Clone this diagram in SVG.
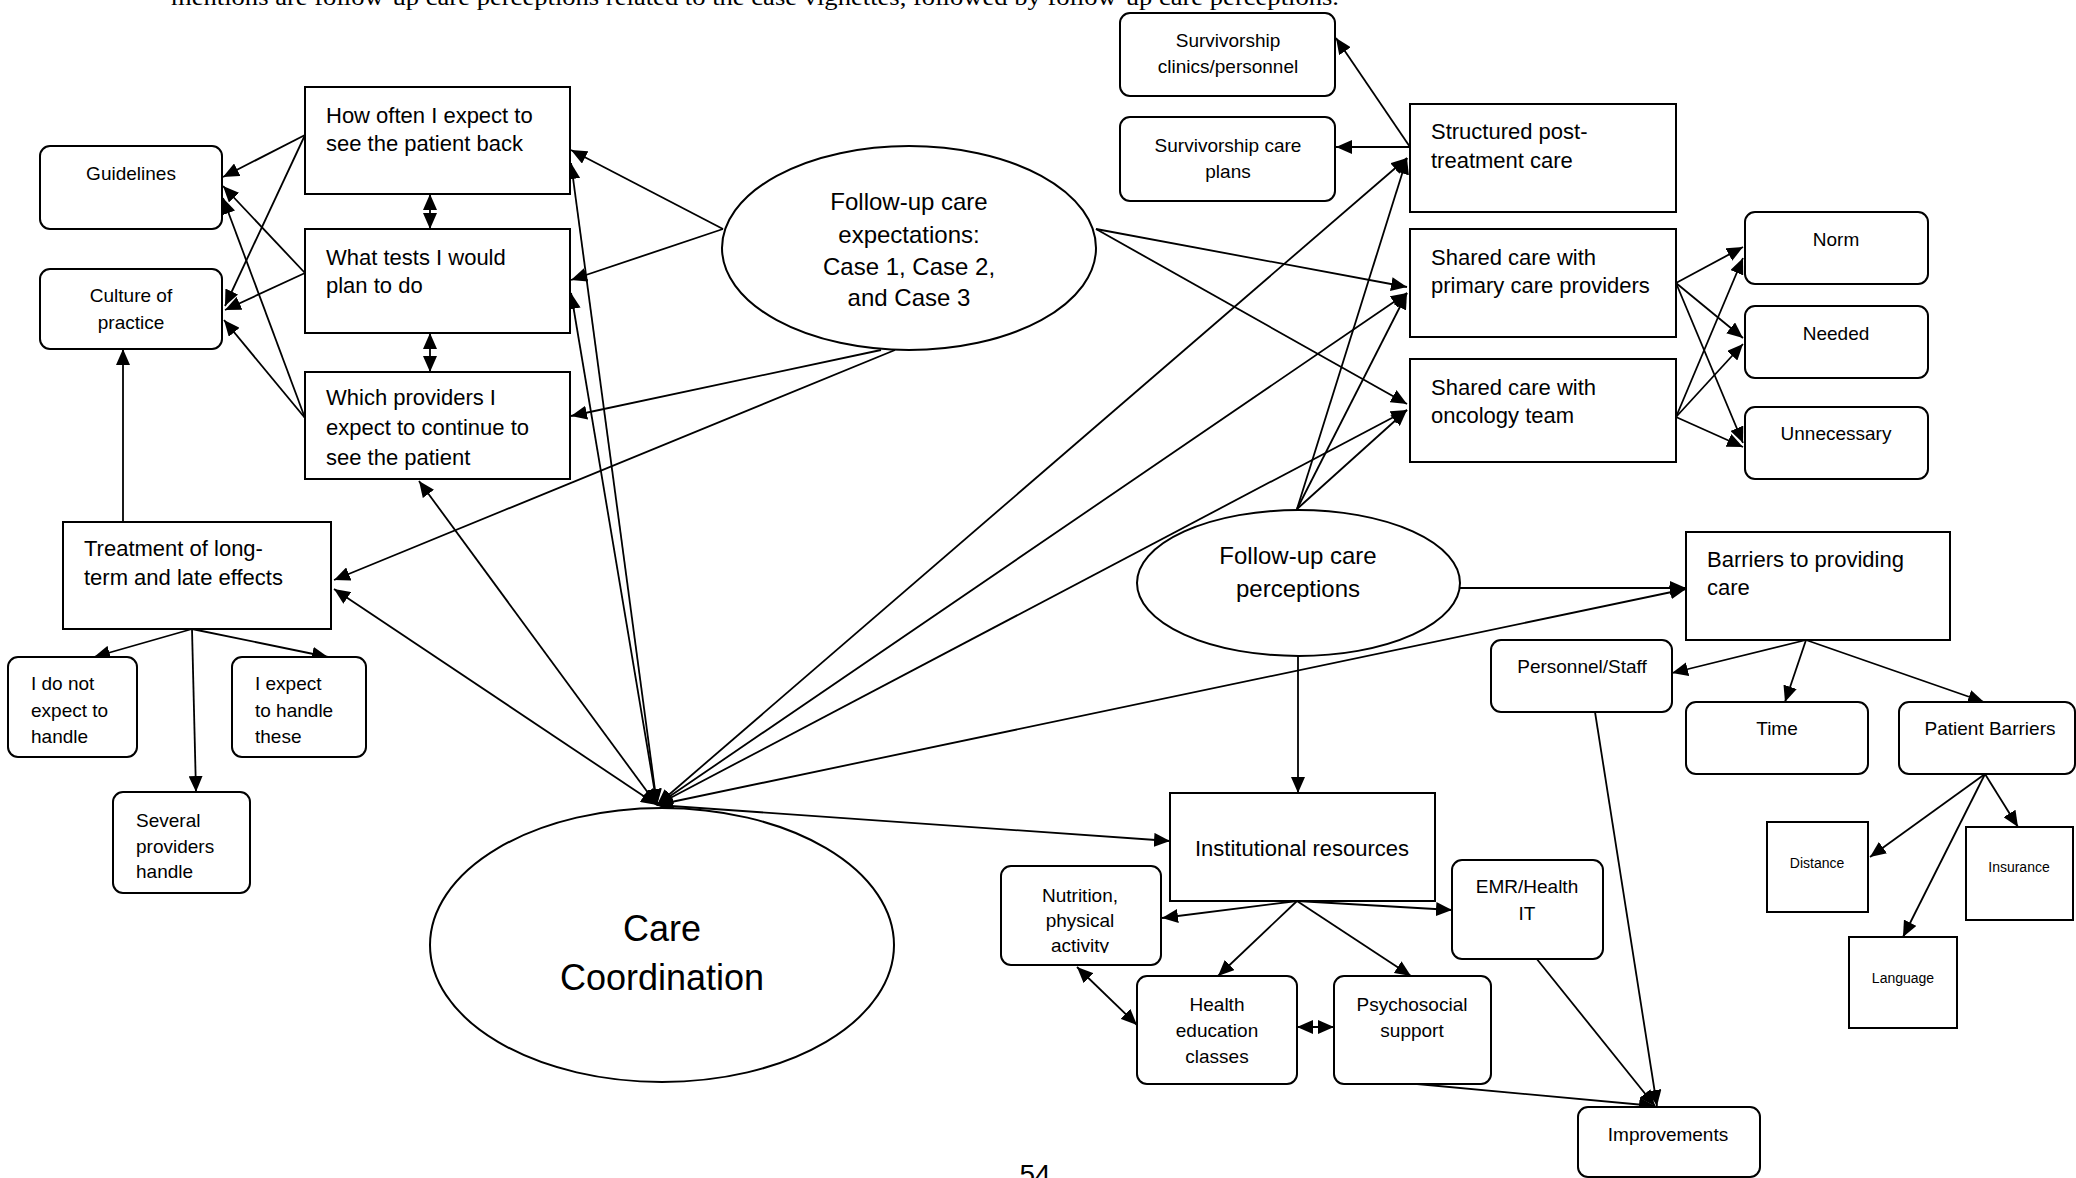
<svg xmlns="http://www.w3.org/2000/svg" width="2076" height="1178" viewBox="0 0 2076 1178">
<style>
.box{fill:#fff;stroke:#000;stroke-width:2}
.ell{fill:#fff;stroke:#000;stroke-width:2}
.t{font-family:"Liberation Sans",Arial,sans-serif;fill:#000}
.l22{font-size:22px}
.s19{font-size:19px;text-anchor:middle}
.s19l{font-size:19px}
.s14{font-size:14px;text-anchor:middle}
.c24{font-size:24px;text-anchor:middle}
.c{stroke:#000;stroke-width:1.8;fill:none;marker-end:url(#ah)}
.d{marker-start:url(#ah)}
</style>
<defs>
<marker id="ah" markerUnits="userSpaceOnUse" markerWidth="16" markerHeight="14" refX="16" refY="7" orient="auto-start-reverse">
<path d="M0,0 L16,7 L0,14 z" fill="#000"/>
</marker>
<clipPath id="nutclip"><rect x="1001" y="866" width="160" height="87"/></clipPath>
</defs>
<rect width="2076" height="1178" fill="#fff"/>
<text x="171" y="5" font-family="'Liberation Serif','Times New Roman',serif" font-size="24" textLength="1168" lengthAdjust="spacingAndGlyphs">mentions are follow-up care perceptions related to the case vignettes, followed by follow-up care perceptions.</text>

<g id="connectors">
<line class="c" x1="305" y1="135" x2="223" y2="177"/>
<line class="c" x1="305" y1="135" x2="225" y2="306"/>
<line class="c" x1="305" y1="273" x2="223" y2="186"/>
<line class="c" x1="305" y1="273" x2="225" y2="310"/>
<line class="c" x1="305" y1="418" x2="223" y2="198"/>
<line class="c" x1="305" y1="418" x2="224" y2="320"/>
<line class="c d" x1="430" y1="194" x2="430" y2="229"/>
<line class="c d" x1="430" y1="333" x2="430" y2="372"/>
<line class="c" x1="123" y1="522" x2="123" y2="349"/>
<line class="c" x1="192" y1="629" x2="94" y2="657"/>
<line class="c" x1="192" y1="629" x2="196" y2="792"/>
<line class="c" x1="192" y1="629" x2="328" y2="657"/>
<line class="c" x1="723" y1="229" x2="571" y2="150"/>
<line class="c" x1="723" y1="229" x2="571" y2="280"/>
<line class="c" x1="881" y1="350" x2="571" y2="416"/>
<line class="c" x1="895" y1="350" x2="334" y2="580"/>
<line class="c" x1="1096" y1="229" x2="1407" y2="287"/>
<line class="c" x1="1096" y1="229" x2="1407" y2="404"/>
<line class="c d" x1="657" y1="805" x2="571" y2="163"/>
<line class="c d" x1="657" y1="805" x2="571" y2="293"/>
<line class="c d" x1="657" y1="805" x2="419" y2="481"/>
<line class="c d" x1="657" y1="805" x2="334" y2="589"/>
<line class="c d" x1="657" y1="805" x2="1407" y2="158"/>
<line class="c d" x1="657" y1="805" x2="1407" y2="293"/>
<line class="c d" x1="657" y1="805" x2="1407" y2="410"/>
<line class="c d" x1="657" y1="805" x2="1686" y2="589"/>
<line class="c d" x1="657" y1="805" x2="1170" y2="841"/>
<line class="c" x1="1297" y1="509" x2="1407" y2="158"/>
<line class="c" x1="1297" y1="509" x2="1407" y2="293"/>
<line class="c" x1="1297" y1="509" x2="1407" y2="410"/>
<line class="c" x1="1460" y1="588" x2="1686" y2="588"/>
<line class="c" x1="1298" y1="656" x2="1298" y2="793"/>
<line class="c" x1="1410" y1="147" x2="1336" y2="147"/>
<line class="c" x1="1410" y1="147" x2="1336" y2="38"/>
<line class="c" x1="1676" y1="283" x2="1743" y2="247"/>
<line class="c" x1="1676" y1="283" x2="1743" y2="338"/>
<line class="c" x1="1676" y1="283" x2="1743" y2="443"/>
<line class="c" x1="1676" y1="417" x2="1743" y2="258"/>
<line class="c" x1="1676" y1="417" x2="1743" y2="344"/>
<line class="c" x1="1676" y1="417" x2="1743" y2="447"/>
<line class="c" x1="1806" y1="640" x2="1672" y2="673"/>
<line class="c" x1="1806" y1="640" x2="1785" y2="702"/>
<line class="c" x1="1806" y1="640" x2="1984" y2="702"/>
<line class="c" x1="1985" y1="774" x2="1870" y2="857"/>
<line class="c" x1="1985" y1="774" x2="2018" y2="827"/>
<line class="c" x1="1985" y1="774" x2="1903" y2="937"/>
<line class="c" x1="1297" y1="901" x2="1162" y2="918"/>
<line class="c" x1="1297" y1="901" x2="1218" y2="976"/>
<line class="c" x1="1297" y1="901" x2="1411" y2="976"/>
<line class="c" x1="1297" y1="901" x2="1452" y2="910"/>
<line class="c d" x1="1077" y1="967" x2="1137" y2="1025"/>
<line class="c d" x1="1297" y1="1027" x2="1334" y2="1027"/>
<line class="c" x1="1417" y1="1084" x2="1655" y2="1106"/>
<line class="c" x1="1536" y1="958" x2="1655" y2="1106"/>
<line class="c" x1="1595" y1="712" x2="1657" y2="1106"/>
</g>

<g id="guidelines"><rect class="box" x="40" y="146" width="182" height="83" rx="10"/><text class="t s19" x="131" y="180">Guidelines</text></g>
<g id="culture"><rect class="box" x="40" y="269" width="182" height="80" rx="10"/><text class="t s19" x="131" y="302">Culture of</text><text class="t s19" x="131" y="329">practice</text></g>
<g id="how-often"><rect class="box" x="305" y="87" width="265" height="107"/><text class="t l22" x="326" y="123">How often I expect to</text><text class="t l22" x="326" y="151">see the patient back</text></g>
<g id="what-tests"><rect class="box" x="305" y="229" width="265" height="104"/><text class="t l22" x="326" y="265">What tests I would</text><text class="t l22" x="326" y="293">plan to do</text></g>
<g id="which-providers"><rect class="box" x="305" y="372" width="265" height="107"/><text class="t l22" x="326" y="405">Which providers I</text><text class="t l22" x="326" y="435">expect to continue to</text><text class="t l22" x="326" y="465">see the patient</text></g>
<g id="treatment"><rect class="box" x="63" y="522" width="268" height="107"/><text class="t l22" x="84" y="556">Treatment of long-</text><text class="t l22" x="84" y="585">term and late effects</text></g>
<g id="not-expect"><rect class="box" x="8" y="657" width="129" height="100" rx="10"/><text class="t s19l" x="31" y="690">I do not</text><text class="t s19l" x="31" y="717">expect to</text><text class="t s19l" x="31" y="743">handle</text></g>
<g id="expect-handle"><rect class="box" x="232" y="657" width="134" height="100" rx="10"/><text class="t s19l" x="255" y="690">I expect</text><text class="t s19l" x="255" y="717">to handle</text><text class="t s19l" x="255" y="743">these</text></g>
<g id="several"><rect class="box" x="113" y="792" width="137" height="101" rx="10"/><text class="t s19l" x="136" y="827">Several</text><text class="t s19l" x="136" y="853">providers</text><text class="t s19l" x="136" y="878">handle</text></g>
<g id="expectations"><ellipse class="ell" cx="909" cy="248" rx="187" ry="102"/><text class="t c24" x="909" y="210">Follow-up care</text><text class="t c24" x="909" y="243">expectations:</text><text class="t c24" x="909" y="275">Case 1, Case 2,</text><text class="t c24" x="909" y="306">and Case 3</text></g>
<g id="care-coordination"><ellipse class="ell" cx="662" cy="945" rx="232" ry="137"/><text class="t" x="662" y="941" font-size="36" text-anchor="middle">Care</text><text class="t" x="662" y="990" font-size="36" text-anchor="middle">Coordination</text></g>
<g id="surv-clinics"><rect class="box" x="1120" y="13" width="215" height="83" rx="10"/><text class="t s19" x="1228" y="47">Survivorship</text><text class="t s19" x="1228" y="73">clinics/personnel</text></g>
<g id="surv-plans"><rect class="box" x="1120" y="117" width="215" height="84" rx="10"/><text class="t s19" x="1228" y="152">Survivorship care</text><text class="t s19" x="1228" y="178">plans</text></g>
<g id="structured"><rect class="box" x="1410" y="104" width="266" height="108"/><text class="t l22" x="1431" y="139">Structured post-</text><text class="t l22" x="1431" y="168">treatment care</text></g>
<g id="shared-primary"><rect class="box" x="1410" y="229" width="266" height="108"/><text class="t l22" x="1431" y="265">Shared care with</text><text class="t l22" x="1431" y="293">primary care providers</text></g>
<g id="shared-oncology"><rect class="box" x="1410" y="359" width="266" height="103"/><text class="t l22" x="1431" y="395">Shared care with</text><text class="t l22" x="1431" y="423">oncology team</text></g>
<g id="norm"><rect class="box" x="1745" y="212" width="183" height="72" rx="10"/><text class="t s19" x="1836" y="246">Norm</text></g>
<g id="needed"><rect class="box" x="1745" y="306" width="183" height="72" rx="10"/><text class="t s19" x="1836" y="340">Needed</text></g>
<g id="unnecessary"><rect class="box" x="1745" y="407" width="183" height="72" rx="10"/><text class="t s19" x="1836" y="440">Unnecessary</text></g>
<g id="perceptions"><ellipse class="ell" cx="1298.5" cy="583" rx="161.5" ry="73"/><text class="t c24" x="1298" y="564">Follow-up care</text><text class="t c24" x="1298" y="597">perceptions</text></g>
<g id="barriers"><rect class="box" x="1686" y="532" width="264" height="108"/><text class="t l22" x="1707" y="567">Barriers to providing</text><text class="t l22" x="1707" y="595">care</text></g>
<g id="personnel"><rect class="box" x="1491" y="640" width="181" height="72" rx="10"/><text class="t s19" x="1582" y="673">Personnel/Staff</text></g>
<g id="time"><rect class="box" x="1686" y="702" width="182" height="72" rx="10"/><text class="t s19" x="1777" y="735">Time</text></g>
<g id="patient-barriers"><rect class="box" x="1899" y="702" width="176" height="72" rx="10"/><text class="t s19" x="1990" y="735">Patient Barriers</text></g>
<g id="distance"><rect class="box" x="1767" y="822" width="101" height="90"/><text class="t s14" x="1817" y="868">Distance</text></g>
<g id="insurance"><rect class="box" x="1966" y="827" width="107" height="93"/><text class="t s14" x="2019" y="872">Insurance</text></g>
<g id="language"><rect class="box" x="1849" y="937" width="108" height="91"/><text class="t s14" x="1903" y="983">Language</text></g>
<g id="institutional"><rect class="box" x="1170" y="793" width="265" height="108"/><text class="t l22" x="1302" y="856" text-anchor="middle">Institutional resources</text></g>
<g id="nutrition"><rect class="box" x="1001" y="866" width="160" height="99" rx="10"/><g clip-path="url(#nutclip)"><text class="t s19" x="1080" y="902">Nutrition,</text><text class="t s19" x="1080" y="927">physical</text><text class="t s19" x="1080" y="952">activity</text></g></g>
<g id="emr"><rect class="box" x="1452" y="860" width="151" height="99" rx="10"/><text class="t s19" x="1527" y="893">EMR/Health</text><text class="t s19" x="1527" y="920">IT</text></g>
<g id="health-ed"><rect class="box" x="1137" y="976" width="160" height="108" rx="10"/><text class="t s19" x="1217" y="1011">Health</text><text class="t s19" x="1217" y="1037">education</text><text class="t s19" x="1217" y="1063">classes</text></g>
<g id="psychosocial"><rect class="box" x="1334" y="976" width="157" height="108" rx="10"/><text class="t s19" x="1412" y="1011">Psychosocial</text><text class="t s19" x="1412" y="1037">support</text></g>
<g id="improvements"><rect class="box" x="1578" y="1107" width="182" height="70" rx="10"/><text class="t s19" x="1668" y="1141">Improvements</text></g>
<text class="t" x="1035" y="1184" font-size="28" text-anchor="middle">54</text>
</svg>
